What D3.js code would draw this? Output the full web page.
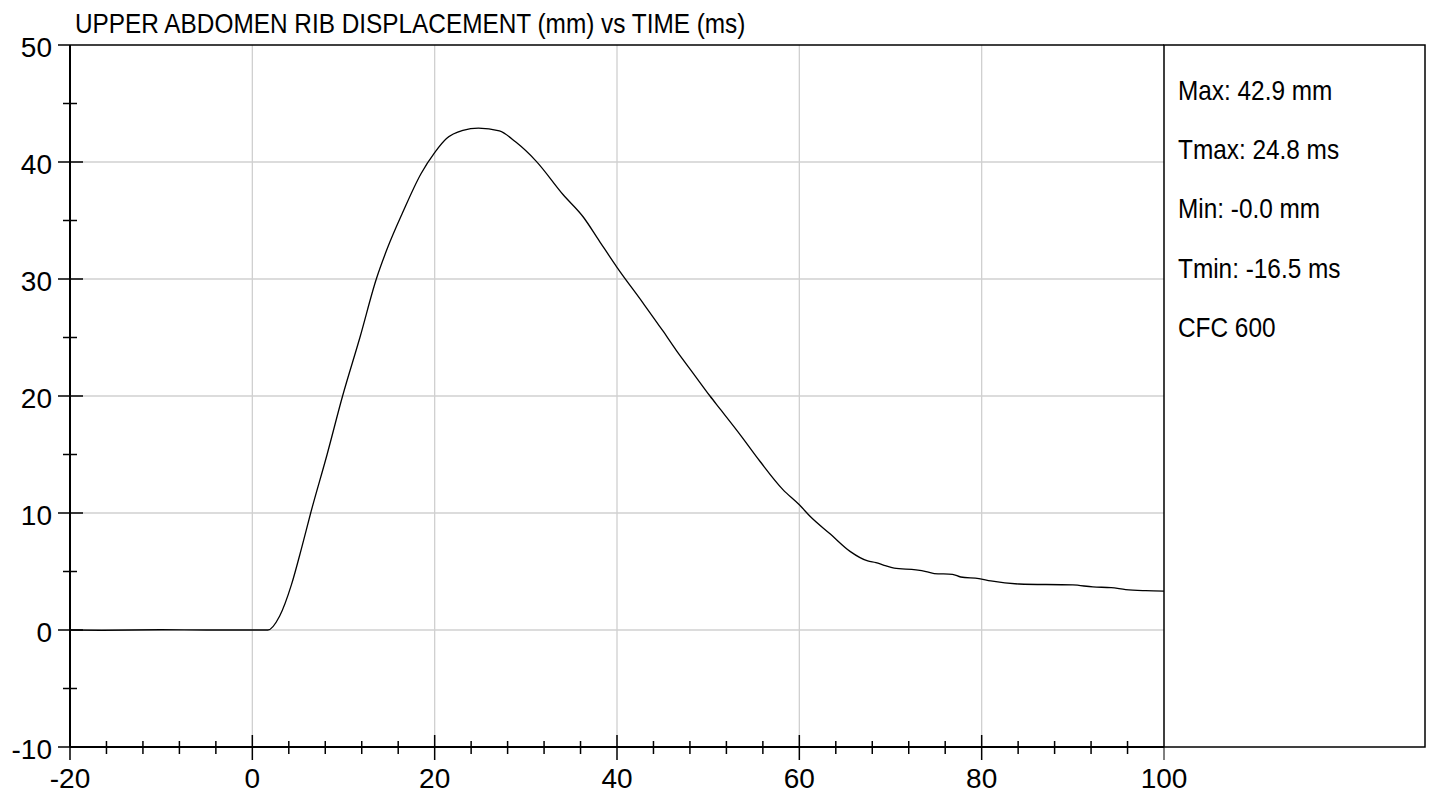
<!DOCTYPE html>
<html>
<head>
<meta charset="utf-8">
<script src="https://cdn.jsdelivr.net/npm/d3@7"></script>
<style>
  html, body { margin: 0; padding: 0; background: #fff; }
  svg { display: block; }
  text { font-family: "Liberation Sans", Arial, sans-serif; fill: #000; }
</style>
</head>
<body>
<svg id="chart" width="1431" height="797"></svg>
<script>
// ---- data ----
const title = "UPPER ABDOMEN RIB DISPLACEMENT (mm) vs TIME (ms)";
const timeMs = [-20, -16.5, -10, -5, 0, 1.7, 3.0, 4.3, 5.4, 6.4, 8.2, 9.9, 11.8, 13.6, 14.8, 16.5, 18.5, 20.0, 21.3, 23.1, 24.8, 27.1, 28.9, 31.1, 34.1, 36.3, 38.1, 40.0, 42.9, 45.0, 46.5, 48.4, 50.2, 51.3, 53.5, 55.7, 58.2, 60.0, 61.2, 63.4, 65.6, 67.5, 68.4, 69.3, 70.4, 72.8, 73.9, 74.8, 76.8, 77.7, 79.7, 81.0, 84.1, 90.0, 92.2, 94.2, 95.8, 98.0, 100];
const dispMm = [0, -0.02, 0.02, 0, 0, 0, 1.2, 3.9, 7.0, 10.0, 15.0, 20.0, 25.0, 30.0, 32.6, 35.7, 39.0, 40.8, 42.0, 42.7, 42.9, 42.65, 41.7, 40.1, 37.2, 35.3, 33.2, 31.0, 27.9, 25.6, 23.9, 21.9, 20.0, 18.9, 16.7, 14.4, 12.0, 10.7, 9.7, 8.2, 6.7, 5.9, 5.76, 5.53, 5.28, 5.13, 4.99, 4.82, 4.76, 4.53, 4.39, 4.19, 3.93, 3.85, 3.68, 3.62, 3.45, 3.36, 3.33];
const xMajorTicks = [-20, 0, 20, 40, 60, 80, 100];
const xMinorTicks = [-16, -12, -8, -4, 4, 8, 12, 16, 24, 28, 32, 36, 44, 48, 52, 56, 64, 68, 72, 76, 84, 88, 92, 96];
const yMajorTicks = [-10, 0, 10, 20, 30, 40, 50];
const yMinorTicks = [-5, 5, 15, 25, 35, 45];
const xGrid = [0, 20, 40, 60, 80];
const yGrid = [0, 10, 20, 30, 40];
const infoLines = ["Max: 42.9 mm", "Tmax: 24.8 ms", "Min: -0.0 mm", "Tmin: -16.5 ms", "CFC 600"];

// ---- layout ----
const L = 70, R = 1164, T = 45, B = 747;
const boxR = 1425;
const condense = 0.87;

const svg = d3.select("#chart");
const x = d3.scaleLinear().domain([-20, 100]).range([L, R]);
const y = d3.scaleLinear().domain([-10, 50]).range([B, T]);

// grid
svg.append("g").selectAll("line").data(xGrid).join("line")
  .attr("x1", d => x(d)).attr("x2", d => x(d)).attr("y1", T).attr("y2", B)
  .attr("stroke", "#d0d0d0").attr("stroke-width", 1.3);
svg.append("g").selectAll("line").data(yGrid).join("line")
  .attr("x1", L).attr("x2", R).attr("y1", d => y(d)).attr("y2", d => y(d))
  .attr("stroke", "#d0d0d0").attr("stroke-width", 1.3);

// curve
const line = d3.line().x(d => x(d[0])).y(d => y(d[1])).curve(d3.curveMonotoneX);
svg.append("path").datum(timeMs.map((t, i) => [t, dispMm[i]]))
  .attr("d", line).attr("fill", "none").attr("stroke", "#000").attr("stroke-width", 1.3);

// frame: top line, info box
svg.append("line").attr("x1", L).attr("x2", R).attr("y1", T).attr("y2", T)
  .attr("stroke", "#000").attr("stroke-width", 1.5);
svg.append("rect").attr("x", R).attr("y", T).attr("width", boxR - R).attr("height", B - T)
  .attr("fill", "none").attr("stroke", "#000").attr("stroke-width", 1.5);

// axes lines
svg.append("line").attr("x1", L).attr("x2", L).attr("y1", T).attr("y2", B)
  .attr("stroke", "#000").attr("stroke-width", 2);
svg.append("line").attr("x1", L).attr("x2", R).attr("y1", B).attr("y2", B)
  .attr("stroke", "#000").attr("stroke-width", 2);

// y ticks
svg.append("g").selectAll("line").data(yMajorTicks).join("line")
  .attr("x1", L - 12).attr("x2", d => (d === 50 || d === -10) ? L : L + 13)
  .attr("y1", d => y(d)).attr("y2", d => y(d))
  .attr("stroke", "#000").attr("stroke-width", 1.5);
svg.append("g").selectAll("line").data(yMinorTicks).join("line")
  .attr("x1", L - 7).attr("x2", L + 7)
  .attr("y1", d => y(d)).attr("y2", d => y(d))
  .attr("stroke", "#000").attr("stroke-width", 1.5);
svg.append("g").selectAll("text").data(yMajorTicks).join("text")
  .attr("x", 52).attr("y", d => y(d) + 11.5)
  .attr("text-anchor", "end").attr("font-size", 28)
  .text(d => d);

// x ticks
svg.append("g").selectAll("line").data(xMajorTicks).join("line")
  .attr("x1", d => x(d)).attr("x2", d => x(d))
  .attr("y1", d => (d === -20 || d === 100) ? B : B - 12).attr("y2", B + 13)
  .attr("stroke", "#000").attr("stroke-width", d => d === 100 ? 1 : 1.5);
svg.append("g").selectAll("line").data(xMinorTicks).join("line")
  .attr("x1", d => x(d)).attr("x2", d => x(d))
  .attr("y1", B - 6).attr("y2", B + 7)
  .attr("stroke", "#000").attr("stroke-width", 1.5);
svg.append("g").selectAll("text").data(xMajorTicks).join("text")
  .attr("x", d => x(d)).attr("y", 788)
  .attr("text-anchor", "middle").attr("font-size", 28)
  .text(d => d);

// condensed texts
function condenseText(sel) {
  sel.each(function() {
    const w = this.getComputedTextLength();
    d3.select(this).attr("textLength", w * condense).attr("lengthAdjust", "spacingAndGlyphs");
  });
}
svg.append("text").attr("x", 75).attr("y", 33).attr("font-size", 28).text(title).call(condenseText);

svg.append("g").selectAll("text").data(infoLines).join("text")
  .attr("x", 1178).attr("y", (d, i) => 99.5 + i * 59.4)
  .attr("font-size", 28).text(d => d).call(condenseText);
</script>
</body>
</html>
